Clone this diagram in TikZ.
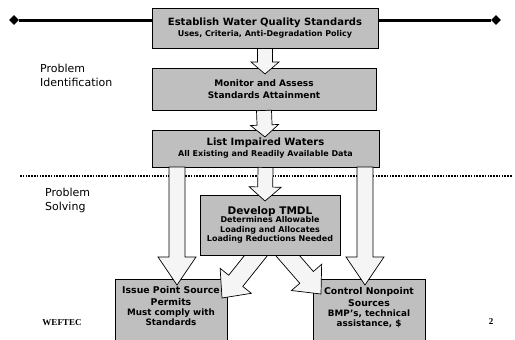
\documentclass[tikz,border=0pt]{standalone}
\usepackage{fontspec}
\setmainfont{DejaVu Sans}
\newfontfamily\serifb{Liberation Serif}
\usetikzlibrary{shapes.geometric,calc}
\pgfdeclarelayer{lower}
\pgfdeclarelayer{mid}
\pgfsetlayers{lower,mid,main}
\newcommand\szA{\fontsize{10}{12}\selectfont}
\newcommand\szB{\fontsize{8}{9.5}\selectfont}
\tikzset{
  box/.style={draw=black, line width=0.9pt, fill=gray!50, inner sep=0pt, align=center, font=\bfseries},
  fatarrow/.style={draw=black, line width=0.7pt, fill=gray!8, line join=miter},
  lbl/.style={font=\fontsize{11}{14}\selectfont, align=left, anchor=north west, inner sep=0pt},
  endmark/.style={diamond, fill=black, inner sep=0pt, minimum size=10pt},
  lowtxt/.style={font=\bfseries\fontsize{9.3}{12}\selectfont, align=center, anchor=north, inner sep=0pt},
}
\newcommand\fatarr[5]{%
  \coordinate (fa-h) at ($(#2)!#5!(#1)$);
  \draw[fatarrow] ($(#1)!#3!90:(#2)$) -- ($(fa-h)!#3!90:(#2)$) -- ($(fa-h)!#4!90:(#2)$)
    -- (#2) -- ($(fa-h)!#4!-90:(#2)$) -- ($(fa-h)!#3!-90:(#2)$) -- ($(#1)!#3!-90:(#2)$) -- cycle;
}
\begin{document}
\begin{tikzpicture}[x=1pt,y=-1pt]
\useasboundingbox (0,0) rectangle (515,340);

% top line with diamonds
\node[endmark] (dL) at (14,20) {};
\node[endmark] (dR) at (496,20) {};

\node[box, minimum width=226pt, minimum height=40pt] (b1) at (265,28)
  {\szA Establish Water Quality Standards\\[-1pt]
   \szB Uses, Criteria, Anti-Degradation Policy};
\draw[line width=3pt] (dL) -- (dL -| b1.west);
\draw[line width=3pt] (dR) -- (dR -| b1.east);

\node[box, minimum width=224pt, minimum height=42pt, font=\bfseries\fontsize{9}{11.5}\selectfont] (b2) at (264,89)
  {Monitor and Assess\\Standards Attainment};

\node[box, minimum width=227pt, minimum height=37pt] (b3) at (265.5,148.5)
  {\szA List Impaired Waters\\[-1pt]
   \szB All Existing and Readily Available Data};

% dotted separator
\coordinate (dotL) at (20,176);
\coordinate (dotR) at (512,176);
\draw[line width=1.6pt, dash pattern=on 1.6pt off 1.2pt] (dotL) -- (dotR);

% side labels
\node[lbl] (pi) at (40,64) {Problem\\Identification};
\node[lbl] (ps) at (45,188) {Problem\\Solving};

% bottom boxes (lower layer)
\begin{pgfonlayer}{lower}
\node[box, minimum width=112pt, minimum height=68pt, anchor=north] (b5) at (171,279) {};
\node[box, minimum width=112pt, minimum height=68pt, anchor=north] (b6) at (369,279) {};
\end{pgfonlayer}
\node[lowtxt] (t5txt) at ([yshift=-7pt]b5.north)
  {Issue Point Source\\Permits\\[-2pt]
   \fontsize{8.8}{10}\selectfont Must comply with\\[-2pt]\fontsize{8.8}{10}\selectfont Standards};
\node[lowtxt] (t6txt) at ([yshift=-8pt]b6.north)
  {Control Nonpoint\\Sources\\[-2pt]
   \fontsize{8.8}{10}\selectfont BMP's, technical\\[-2pt]\fontsize{8.8}{10}\selectfont assistance, \$};

% diagonal arrows (mid layer, under TMDL box)
\coordinate (s6) at (262,248);
\coordinate (t6) at (222,298);
\coordinate (s7) at (281,248);
\coordinate (t7) at (321,294);
\begin{pgfonlayer}{mid}
\fatarr{s6}{t6}{9pt}{20pt}{22pt}
\fatarr{s7}{t7}{9pt}{20pt}{22pt}
\end{pgfonlayer}

\node[box, minimum width=140pt, minimum height=60pt, font=\bfseries\fontsize{8}{9.5}\selectfont] (b4) at (270,225)
  {\fontsize{10.5}{13}\selectfont Develop TMDL\\[-1pt]
   Determines Allowable\\Loading and Allocates\\Loading Reductions Needed};

% vertical arrows
\coordinate (t1) at (265,74);
\coordinate (t2) at (265,137);
\coordinate (t3) at (265,201);
\coordinate (s4) at (177,167);
\coordinate (t4) at (177,285);
\coordinate (s5) at (365,167);
\coordinate (t5) at (365,285);
\fatarr{b1.south}{t1}{7.5pt}{14pt}{12pt}
\fatarr{b2.south}{t2}{7.5pt}{14pt}{12pt}
\fatarr{b3.south}{t3}{7.5pt}{16pt}{14pt}
\fatarr{s4}{t4}{8pt}{19pt}{28pt}
\fatarr{s5}{t5}{8pt}{19pt}{28pt}

% footer
\node[font=\serifb\bfseries\fontsize{9}{10}\selectfont, inner sep=0pt] (wef) at (62,323) {WEFTEC};
\node[font=\serifb\bfseries\fontsize{9}{10}\selectfont, inner sep=0pt] (pg) at (491,322) {2};
\end{tikzpicture}
\end{document}
